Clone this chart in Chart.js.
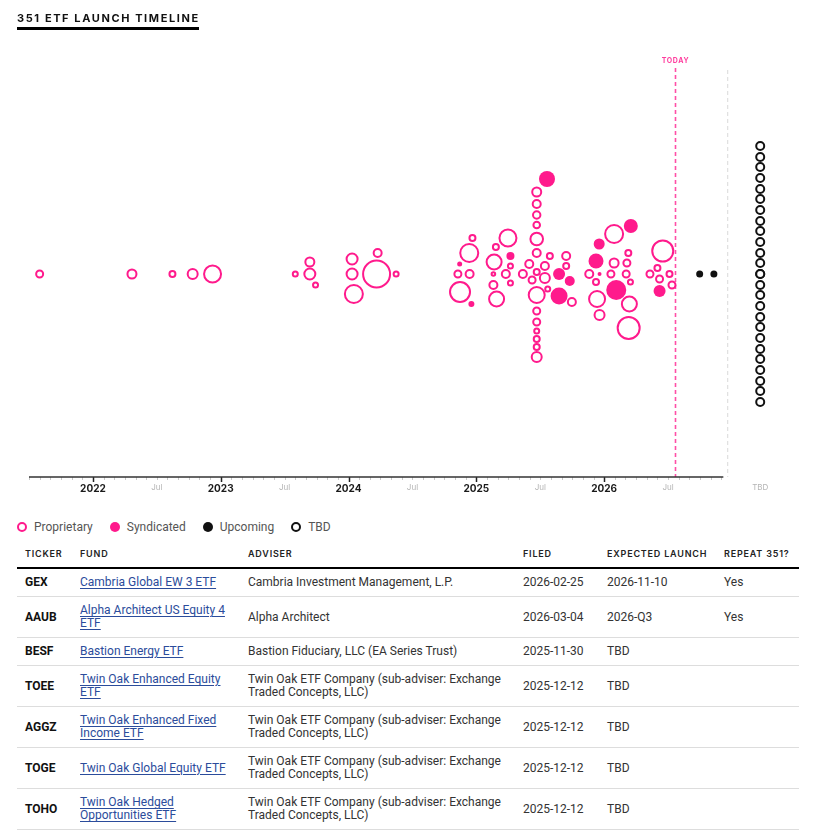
<!DOCTYPE html>
<html><head><meta charset="utf-8">
<script src="https://cdn.jsdelivr.net/npm/chart.js@4.4.1/dist/chart.umd.min.js"></script>
<style>
html,body{margin:0;padding:0;background:#fff;width:814px;height:832px;overflow:hidden;font-family:Roboto,"Liberation Sans",sans-serif;}
#title{position:absolute;left:17px;top:12px;font:700 11px Inter,sans-serif;letter-spacing:1.6px;color:#111;line-height:13px;padding-bottom:2px;border-bottom:3px solid #000;width:182px;white-space:nowrap;}
#wrap{position:absolute;left:0;top:0;width:814px;height:507px;}
#legend{position:absolute;left:17px;top:520px;display:flex;font-size:12px;color:#555;line-height:14px;}
.li{display:flex;align-items:center;margin-right:17px}
.sw{width:10px;height:10px;border-radius:50%;box-sizing:border-box;margin-right:7px}
table{position:absolute;left:17px;top:543px;width:782px;border-collapse:collapse;table-layout:fixed;}
th{font:600 9px Inter,sans-serif;letter-spacing:.8px;text-align:left;color:#222;padding:5px 8px 7px;line-height:12px;border-bottom:2px solid #000;}
td{font-size:12px;color:#333;line-height:13px;padding:7px 8px 7px;border-bottom:1px solid #ddd;vertical-align:middle;}
td.t{font-weight:700;color:#111}
a{color:#2b4c9b;text-decoration:underline;text-underline-offset:2px}
</style></head>
<body>
<div id="wrap"><canvas id="c" width="814" height="507"></canvas></div>
<div id="title">351 ETF LAUNCH TIMELINE</div>
<div id="legend"></div>
<table id="tbl"><colgroup><col style="width:55px"><col style="width:168px"><col style="width:275px"><col style="width:84px"><col style="width:117px"><col style="width:83px"></colgroup><thead><tr id="hdr"></tr></thead><tbody id="body"></tbody></table>
<script>
// ---------- data ----------
const PINK = '#ff1a8c';
const seriesNames = ['Proprietary', 'Syndicated', 'Upcoming', 'TBD'];

// Proprietary launches: launch date, swarm offset, bubble radius
const propDates = ['2021-08-01','2022-04-21','2022-08-15','2022-10-12','2022-12-08','2023-08-01','2023-09-12','2023-09-12','2023-09-28','2024-01-11','2024-01-11','2024-01-16','2024-03-23','2024-03-20','2024-05-15',
 '2024-12-20','2024-12-11','2024-11-09','2024-12-12','2024-11-15','2025-03-30','2025-02-26','2025-02-21','2025-04-07','2025-02-19','2025-03-24','2025-04-07','2025-02-19','2025-02-28','2025-05-12','2025-05-30','2025-06-08',
 '2025-06-21','2025-06-21','2025-06-21','2025-06-21','2025-06-21','2025-06-21','2025-06-21','2025-06-21','2025-06-21','2025-06-21','2025-06-21','2025-06-21','2025-06-21','2025-06-21',
 '2025-07-14','2025-07-28','2025-07-14','2025-07-22','2025-09-30','2025-09-14','2025-09-14',
 '2026-01-29','2026-03-09','2026-01-29','2026-03-05','2025-11-19','2026-01-20','2026-03-03','2025-12-08','2026-03-15','2025-12-11','2026-03-12','2025-12-18','2026-03-10',
 '2026-06-16','2026-06-01','2026-05-10','2026-07-05','2026-06-07','2026-07-12'];
const propOffset = [0,0,0,0,0,0,12,0,-11,15,0,-20,21,0,0,
 36,21,0,0,-18,36,27,12,8,0,0,-9,-11,-25,0,10,-6,
 82,70,59,49,35,21,2,-21,-37,-48,-57,-65,-73,-83,
 8,18,-4,-15,-28,18,8,
 40,21,11,11,0,0,0,-8,-8,-25,-30,-41,-54,
 23,6,0,0,-5,-11];
const propSize = [3.5,4.5,3,5,8.5,2.5,4.5,5.5,2.5,5.5,5.5,9,4,13.5,2.5,
 3,9,3.5,4,10,8.5,3,7.5,2.5,1.8,4,2.5,4,7.5,4,4,3.5,
 4.5,4,3.7,3.3,6.3,4,3,8,3.5,3.5,2.5,3,3,5,
 4,3,5,2.5,4,4,3,
 9,3,4.5,3.5,4,3.5,3.5,3,2.5,8,7.5,5,11,
 10.5,3,3.5,3,3.5,3.5];

// Syndicated launches
const syndDates = ['2024-11-14','2024-12-17','2025-04-07','2025-07-20','2025-08-24','2025-09-24','2025-08-24','2026-03-16','2025-12-17','2025-12-08','2025-12-18','2026-02-05','2026-06-07'];
const syndOffset = [10,-30,18,95,0,-7,-22,48,30,13,0,-16,-17];
const syndSize = [2.5,3,4,8,6,5,8.5,7,5.5,7.5,2,10,6];

// Upcoming launches (expected launch)
const upDates = ['2026-09-30','2026-11-10'];
const upOffset = [0,0];
const upSize = [3.5,3.5];

// TBD filings (no launch date)
const tbdOffset = [128,117,107,96,85,75,64,53,43,32,21,11,0,0,-11,-21,-32,-43,-53,-64,-75,-85,-96,-107,-117,-128];
const tbdSize = 4;

const TODAY = '2026-07-21';
const tickDates = ['2022-01-01','2022-07-01','2023-01-01','2023-07-01','2024-01-01','2024-07-01','2025-01-01','2025-07-01','2026-01-01','2026-07-01'];
const tickLabels = ['2022','Jul','2023','Jul','2024','Jul','2025','Jul','2026','Jul'];
const tbdLabel = 'TBD';

// table
const tickers = ['GEX','AAUB','BESF','TOEE','AGGZ','TOGE','TOHO'];
const funds = ['Cambria Global EW 3 ETF','Alpha Architect US Equity 4 ETF','Bastion Energy ETF','Twin Oak Enhanced Equity ETF','Twin Oak Enhanced Fixed Income ETF','Twin Oak Global Equity ETF','Twin Oak Hedged Opportunities ETF'];
const advisers = ['Cambria Investment Management, L.P.','Alpha Architect','Bastion Fiduciary, LLC (EA Series Trust)','Twin Oak ETF Company (sub-adviser: Exchange Traded Concepts, LLC)','Twin Oak ETF Company (sub-adviser: Exchange Traded Concepts, LLC)','Twin Oak ETF Company (sub-adviser: Exchange Traded Concepts, LLC)','Twin Oak ETF Company (sub-adviser: Exchange Traded Concepts, LLC)'];
const filed = ['2026-02-25','2026-03-04','2025-11-30','2025-12-12','2025-12-12','2025-12-12','2025-12-12'];
const expected = ['2026-11-10','2026-Q3','TBD','TBD','TBD','TBD','TBD'];
const repeat = ['Yes','Yes','','','','',''];
const headers = ['TICKER','FUND','ADVISER','FILED','EXPECTED LAUNCH','REPEAT 351?'];

// ---------- helpers ----------
function toMonths(d){ const p = d.split('-').map(Number); return (p[0]-2021)*12 + (p[1]-1) + (p[2]-1)/30; }
const X_MIN = toMonths('2021-07-01');
const AXIS_END = toMonths('2026-12-01');
const SEP_X = 71.6;   // separator between timeline and TBD column
const TBD_X = 74.65;  // TBD column position
const pts = (dates, off, size) => dates.map((d,i)=>({x: toMonths(d), y: off[i], r: Array.isArray(size)?size[i]:size}));

const tickVals = tickDates.map(toMonths).concat([TBD_X]);
const allLabels = tickLabels.concat([tbdLabel]);

const overlay = {
  id: 'overlay',
  beforeDatasetsDraw(chart){
    const {ctx, chartArea:a, scales:{x}} = chart;
    ctx.save();
    const sx = x.getPixelForValue(SEP_X);
    ctx.strokeStyle = '#d9d9d9'; ctx.lineWidth = 1; ctx.setLineDash([4,3]);
    ctx.beginPath(); ctx.moveTo(sx, a.top+2); ctx.lineTo(sx, a.bottom); ctx.stroke();
    const tx = Math.round(x.getPixelForValue(toMonths(TODAY)))+0.5;
    ctx.strokeStyle = '#ff4fa7'; ctx.lineWidth = 1.6; ctx.setLineDash([4,3]);
    ctx.beginPath(); ctx.moveTo(tx, a.top); ctx.lineTo(tx, a.bottom); ctx.stroke();
    ctx.setLineDash([]);
    ctx.fillStyle = '#ff3d9e'; ctx.font = '700 7px Inter, sans-serif';
    ctx.textAlign = 'center'; ctx.textBaseline = 'middle';
    try { ctx.letterSpacing = '0.6px'; } catch(e){}
    ctx.fillText('TODAY', tx, a.top - 7);
    ctx.restore();
  },
  afterDraw(chart){
    const {ctx, chartArea:a, scales:{x}} = chart;
    ctx.save();
    const y0 = a.bottom;
    for (let m = Math.ceil(X_MIN); m <= AXIS_END; m++){
      const px = Math.round(x.getPixelForValue(m)) + 0.5;
      if (m % 12 === 0){ ctx.strokeStyle = '#222'; ctx.lineWidth = 1.5; ctx.beginPath(); ctx.moveTo(px, y0); ctx.lineTo(px, y0+5); ctx.stroke(); }
      else { ctx.strokeStyle = '#c8c8c8'; ctx.lineWidth = 1; ctx.beginPath(); ctx.moveTo(px, y0); ctx.lineTo(px, y0+3); ctx.stroke(); }
    }
    ctx.strokeStyle = '#333'; ctx.lineWidth = 1.5;
    ctx.beginPath(); ctx.moveTo(x.getPixelForValue(X_MIN), y0); ctx.lineTo(x.getPixelForValue(AXIS_END)+2, y0); ctx.stroke();
    ctx.restore();
  }
};

new Chart(document.getElementById('c'), {
  type: 'bubble',
  data: { datasets: [
    { label: seriesNames[0], data: pts(propDates, propOffset, propSize), backgroundColor: '#ffffff', borderColor: PINK, borderWidth: 2 },
    { label: seriesNames[1], data: pts(syndDates, syndOffset, syndSize), backgroundColor: PINK, borderColor: PINK, borderWidth: 0 },
    { label: seriesNames[2], data: pts(upDates, upOffset, upSize), backgroundColor: '#111', borderColor: '#111', borderWidth: 0 },
    { label: seriesNames[3], data: tbdOffset.map(v=>({x: TBD_X, y: v, r: tbdSize})), backgroundColor: '#ffffff', borderColor: '#111', borderWidth: 2 }
  ]},
  options: {
    responsive: false, animation: false, devicePixelRatio: 1,
    layout: { autoPadding: false, padding: { top: 68, left: 29, right: 0, bottom: 0 } },
    plugins: { legend: { display: false }, tooltip: { enabled: false } },
    elements: { point: { hoverRadius: 0, hitRadius: 0 } },
    scales: {
      x: {
        type: 'linear', min: X_MIN, max: 79.7,
        border: { display: false },
        grid: { display: false, drawTicks: false },
        afterBuildTicks: s => { s.ticks = tickVals.map(v => ({ value: v })); },
        afterFit: s => { s.height = 30; },
        ticks: {
          autoSkip: false, maxRotation: 0, padding: 6,
          callback: (v, i) => allLabels[i],
          font: ctx => (allLabels[ctx.index] && /^\d/.test(allLabels[ctx.index])) ? { family: 'Inter, sans-serif', size: 10, weight: '700' } : { family: 'Inter, sans-serif', size: 8, weight: '400' },
          color: ctx => (allLabels[ctx.index] && /^\d/.test(allLabels[ctx.index])) ? '#1a1a1a' : '#b5b5b5'
        }
      },
      y: { display: false, min: -203, max: 206 }
    }
  },
  plugins: [overlay]
});

// legend
const lg = document.getElementById('legend');
const sw = [
  'border:2px solid '+PINK+';background:#fff',
  'background:'+PINK,
  'background:#111',
  'border:2px solid #111;background:#fff'
];
seriesNames.forEach((n,i)=>{
  const d = document.createElement('div'); d.className='li';
  d.innerHTML = '<span class="sw" style="'+sw[i]+'"></span><span>'+n+'</span>';
  lg.appendChild(d);
});
// table
document.getElementById('hdr').innerHTML = headers.map(h=>'<th>'+h+'</th>').join('');
document.getElementById('body').innerHTML = tickers.map((t,i)=>
  '<tr><td class="t">'+t+'</td><td><a href="#">'+funds[i]+'</a></td><td>'+advisers[i]+'</td><td>'+filed[i]+'</td><td>'+expected[i]+'</td><td>'+repeat[i]+'</td></tr>').join('');
</script>
</body></html>
